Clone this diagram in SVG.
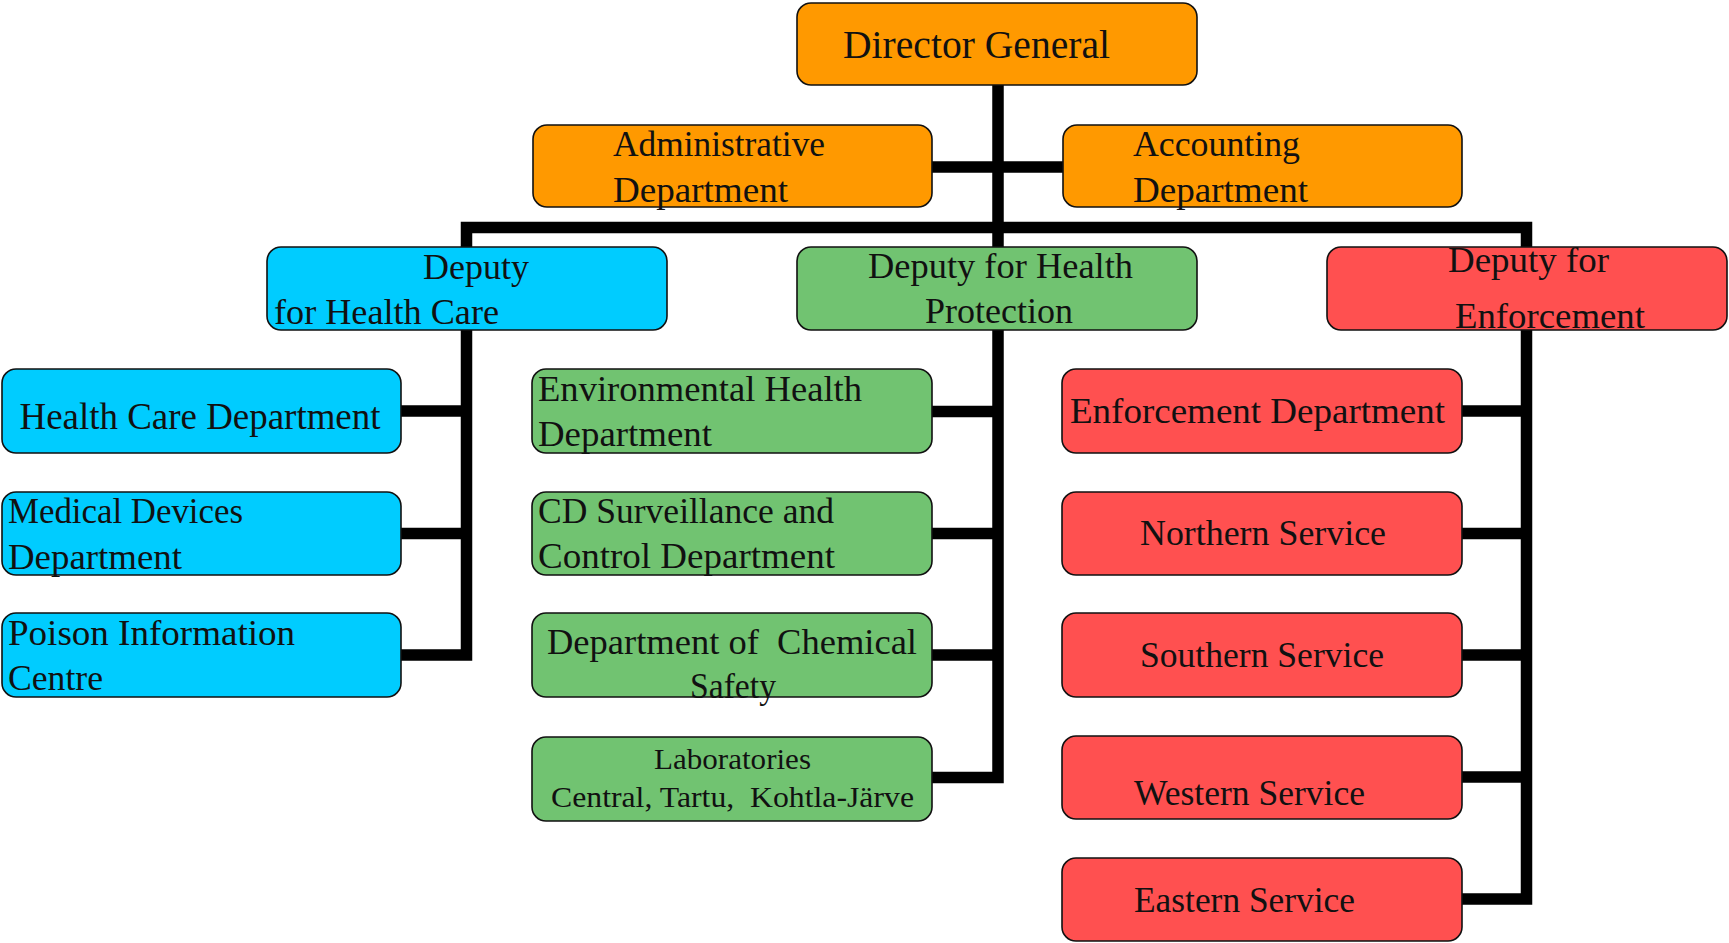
<svg xmlns="http://www.w3.org/2000/svg" width="1729" height="943" viewBox="0 0 1729 943">
<style>
.box{stroke:#111;stroke-width:1.6}
.or{fill:#FF9900}.cy{fill:#00CCFF}.gr{fill:#71C371}.rd{fill:#FF5050}
text{font-family:"Liberation Serif","Times New Roman",serif;font-size:35px;fill:#111;white-space:pre}
.big{font-size:41px}.hc{font-size:37px}.lab{font-size:29px}
.con{fill:none;stroke:#000;stroke-width:11.5;stroke-linejoin:miter;stroke-linecap:butt}
</style>
<rect width="1729" height="943" fill="#fff"/>
<g id="connectors">
<path class="con" d="M998 85 V777.5 H932"/>
<path class="con" d="M932 167 H1063"/>
<path class="con" d="M401 655 H466.5 V227.5 H1526.5 V899 H1462"/>
<path class="con" d="M401 411 H466.5 M401 533.5 H466.5"/>
<path class="con" d="M932 411.5 H998 M932 533.5 H998 M932 655 H998"/>
<path class="con" d="M1462 411 H1526.5 M1462 533.5 H1526.5 M1462 655 H1526.5 M1462 777 H1526.5"/>
</g>
<g id="director-general"><rect class="box or" x="797" y="3" width="400" height="82" rx="14"/><text class="big" x="843" y="58" textLength="267" lengthAdjust="spacingAndGlyphs">Director General</text></g>
<g id="administrative"><rect class="box or" x="533" y="125" width="399" height="82" rx="14"/><text x="613" y="156" textLength="212" lengthAdjust="spacingAndGlyphs">Administrative</text><text x="613" y="202" textLength="175" lengthAdjust="spacingAndGlyphs">Department</text></g>
<g id="accounting"><rect class="box or" x="1063" y="125" width="399" height="82" rx="14"/><text x="1133" y="156" textLength="167" lengthAdjust="spacingAndGlyphs">Accounting</text><text x="1133" y="202" textLength="175" lengthAdjust="spacingAndGlyphs">Department</text></g>
<g id="deputy-health-care"><rect class="box cy" x="267" y="247" width="400" height="83" rx="14"/><text x="423" y="279" textLength="106" lengthAdjust="spacingAndGlyphs">Deputy</text><text x="274" y="324" textLength="225" lengthAdjust="spacingAndGlyphs">for Health Care</text></g>
<g id="deputy-health-protection"><rect class="box gr" x="797" y="247" width="400" height="83" rx="14"/><text x="868" y="278" textLength="265" lengthAdjust="spacingAndGlyphs">Deputy for Health</text><text x="925" y="323" textLength="148" lengthAdjust="spacingAndGlyphs">Protection</text></g>
<g id="deputy-enforcement"><rect class="box rd" x="1327" y="247" width="400" height="83" rx="14"/><text x="1448" y="272" textLength="161" lengthAdjust="spacingAndGlyphs">Deputy for</text><text x="1455" y="328" textLength="190" lengthAdjust="spacingAndGlyphs">Enforcement</text></g>
<g id="health-care-dept"><rect class="box cy" x="2" y="369" width="399" height="84" rx="14"/><text class="hc" x="19.5" y="429" textLength="361" lengthAdjust="spacingAndGlyphs">Health Care Department</text></g>
<g id="medical-devices"><rect class="box cy" x="2" y="492" width="399" height="83" rx="14"/><text x="8" y="523" textLength="235" lengthAdjust="spacingAndGlyphs">Medical Devices</text><text x="8" y="569" textLength="174" lengthAdjust="spacingAndGlyphs">Department</text></g>
<g id="poison-info"><rect class="box cy" x="2" y="613" width="399" height="84" rx="14"/><text x="8" y="645" textLength="287" lengthAdjust="spacingAndGlyphs">Poison Information</text><text x="8" y="690" textLength="95" lengthAdjust="spacingAndGlyphs">Centre</text></g>
<g id="environmental-health"><rect class="box gr" x="532" y="369" width="400" height="84" rx="14"/><text x="538" y="401" textLength="324" lengthAdjust="spacingAndGlyphs">Environmental Health</text><text x="538" y="446" textLength="174" lengthAdjust="spacingAndGlyphs">Department</text></g>
<g id="cd-surveillance"><rect class="box gr" x="532" y="492" width="400" height="83" rx="14"/><text x="538" y="523" textLength="296" lengthAdjust="spacingAndGlyphs">CD Surveillance and</text><text x="538" y="568" textLength="297" lengthAdjust="spacingAndGlyphs">Control Department</text></g>
<g id="chemical-safety"><rect class="box gr" x="532" y="613" width="400" height="84" rx="14"/><text x="547" y="654" textLength="370" lengthAdjust="spacingAndGlyphs">Department of  Chemical</text><text x="690" y="698" textLength="86" lengthAdjust="spacingAndGlyphs">Safety</text></g>
<g id="laboratories"><rect class="box gr" x="532" y="737" width="400" height="84" rx="14"/><text class="lab" x="654" y="769" textLength="157" lengthAdjust="spacingAndGlyphs">Laboratories</text><text class="lab" x="551" y="807" textLength="363" lengthAdjust="spacingAndGlyphs">Central, Tartu,  Kohtla-Järve</text></g>
<g id="enforcement-dept"><rect class="box rd" x="1062" y="369" width="400" height="84" rx="14"/><text x="1070" y="423" textLength="375" lengthAdjust="spacingAndGlyphs">Enforcement Department</text></g>
<g id="northern"><rect class="box rd" x="1062" y="492" width="400" height="83" rx="14"/><text x="1140" y="545" textLength="246" lengthAdjust="spacingAndGlyphs">Northern Service</text></g>
<g id="southern"><rect class="box rd" x="1062" y="613" width="400" height="84" rx="14"/><text x="1140" y="667" textLength="244" lengthAdjust="spacingAndGlyphs">Southern Service</text></g>
<g id="western"><rect class="box rd" x="1062" y="736" width="400" height="83" rx="14"/><text x="1134" y="805" textLength="231" lengthAdjust="spacingAndGlyphs">Western Service</text></g>
<g id="eastern"><rect class="box rd" x="1062" y="858" width="400" height="83" rx="14"/><text x="1134" y="912" textLength="221" lengthAdjust="spacingAndGlyphs">Eastern Service</text></g>
</svg>
